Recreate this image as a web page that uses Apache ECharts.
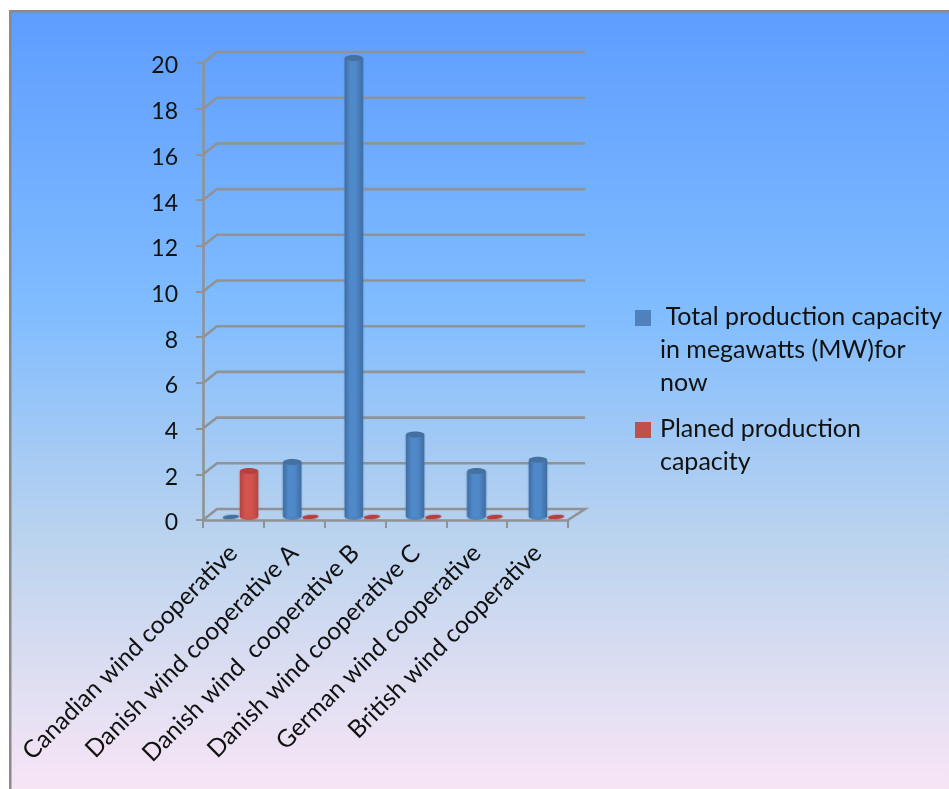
<!DOCTYPE html>
<html>
<head>
<meta charset="utf-8">
<style>html,body{margin:0;padding:0;background:#fff}#chart{width:949px;height:789px}</style>
<script src="https://cdn.jsdelivr.net/npm/echarts@6/dist/echarts.min.js"></script>
</head>
<body>
<div id="chart"></div>
<script>
// Wind cooperatives: current and planned production capacity in MW
const categories = [
  'Canadian wind cooperative',
  'Danish wind cooperative A',
  'Danish wind  cooperative B',
  'Danish wind cooperative C',
  'German wind cooperative',
  'British wind cooperative'
];
const totalCapacity = [0, 2.4, 20, 3.6, 2, 2.5];
const plannedCapacity = [2, 0, 0, 0, 0, 0];
const totalName = ['\u00a0Total production capacity', 'in megawatts (MW)for', 'now'];
const plannedName = ['Planed production', 'capacity'];
const yTicks = [0, 2, 4, 6, 8, 10, 12, 14, 16, 18, 20];

const FONT = 'Lato';
const DEPTH_X = 14, DEPTH_Y = -11, WALL_W = 368;
const GREY = '#8f9396';

// Gridline with its bevel running back from the front axis, plus the floor edge
function renderWall(params, api) {
  const cs = params.coordSys;
  const v = api.value(0);
  const y = api.coord([0, v])[1];
  const x0 = cs.x;
  const pts = [[x0, y], [x0 + DEPTH_X, y + DEPTH_Y], [x0 + DEPTH_X + WALL_W, y + DEPTH_Y]];
  if (v === 0) {
    pts.push([x0 + cs.width, y]);
  }
  return {
    type: 'polyline',
    shape: { points: pts },
    style: { stroke: GREY, lineWidth: 2.6, fill: null }
  };
}

// Cylinder drawn from the value's scale position, with a flat disc when the value is 0
function cylinder(side, colors) {
  return function (params, api) {
    const idx = api.value(0), v = api.value(1);
    const base = api.coord([idx, 0]);
    const top = api.coord([idx, v]);
    const bw = api.size([1, 0])[0] * 0.295;
    const left = side < 0 ? base[0] - bw : base[0];
    const cx = left + bw / 2;
    if (v === 0) {
      return {
        type: 'ellipse',
        shape: { cx: cx, cy: base[1], rx: bw / 2 - 1, ry: 2 },
        rotation: 0.09,
        originX: cx,
        originY: base[1],
        style: { fill: colors.cap, shadowBlur: 2, shadowColor: colors.cap }
      };
    }
    const body = new echarts.graphic.LinearGradient(0, 0, 1, 0, [
      { offset: 0, color: colors.edge },
      { offset: 0.3, color: colors.mid },
      { offset: 0.62, color: colors.mid },
      { offset: 1, color: colors.edge }
    ]);
    return {
      type: 'group',
      children: [
        { type: 'ellipse', shape: { cx: cx, cy: base[1], rx: bw / 2, ry: 3 }, style: { fill: colors.mid } },
        {
          type: 'rect',
          shape: { x: left, y: top[1], width: bw, height: base[1] - top[1] },
          style: { fill: body, shadowBlur: 2, shadowColor: colors.edge }
        },
        { type: 'ellipse', shape: { cx: cx, cy: top[1], rx: bw / 2, ry: 3 }, style: { fill: colors.cap } }
      ]
    };
  };
}

const BLUE = { edge: '#3f6da3', mid: '#5089c9', cap: '#44719f' };
const RED = { edge: '#b8443f', mid: '#d2544f', cap: '#b5403d' };

// Legend entries sit beside the plot with their swatch on the first line
function legendEntry(lines, top, color) {
  return [
    { type: 'rect', left: 635, top: top + 10, shape: { width: 16, height: 16 }, style: { fill: color } },
    {
      type: 'text', left: 660, top: top,
      style: { text: lines.join('\n'), font: '25px ' + FONT, fill: '#111', lineHeight: 33 }
    }
  ];
}

const chart = echarts.init(document.getElementById('chart'), null, { renderer: 'canvas' });
chart.setOption({
  animation: false,
  graphic: [
    {
      type: 'rect', left: 9, top: 10, z: -10,
      shape: { width: 945, height: 785 },
      style: {
        fill: new echarts.graphic.LinearGradient(0, 0, 0, 1, [
          { offset: 0, color: '#5e9dff' },
          { offset: 0.38, color: '#80bcff' },
          { offset: 0.66, color: '#b8d2ee' },
          { offset: 0.86, color: '#e0dff2' },
          { offset: 1, color: '#f9e5f6' }
        ]),
        stroke: '#8a8a8a',
        lineWidth: 2.5
      }
    },
    ...legendEntry(totalName, 300, '#4f81bd'),
    ...legendEntry(plannedName, 412, '#c0504d')
  ],
  grid: [
    { left: 203, top: 63, width: 365, height: 457 },
    { left: 209.3, top: 58, width: 368.4, height: 459 }
  ],
  xAxis: [
    {
      gridIndex: 0, type: 'category', data: categories,
      axisLine: { lineStyle: { color: GREY, width: 2.6 } },
      axisTick: { show: true, length: 8, lineStyle: { color: GREY, width: 2 } },
      axisLabel: { rotate: 45, interval: 0, margin: 29, color: '#111', fontFamily: FONT, fontSize: 24.5 }
    },
    { gridIndex: 1, type: 'category', data: categories, show: false }
  ],
  yAxis: [
    {
      gridIndex: 0, type: 'value', min: 0, max: 20, interval: 2,
      axisLine: { show: true, lineStyle: { color: GREY, width: 2.6 } },
      axisTick: { show: true, length: 7, lineStyle: { color: GREY, width: 2 } },
      splitLine: { show: false },
      axisLabel: { margin: 25, verticalAlign: 'top', lineHeight: 6, color: '#111', fontFamily: FONT, fontSize: 23 }
    },
    { gridIndex: 1, type: 'value', min: 0, max: 20, interval: 2, show: false, splitLine: { show: false } }
  ],
  series: [
    {
      type: 'custom', xAxisIndex: 0, yAxisIndex: 0, z: 1, silent: true,
      renderItem: renderWall,
      encode: { y: 0 },
      data: yTicks.map(v => [v])
    },
    {
      type: 'custom', name: totalName.join(' '), xAxisIndex: 1, yAxisIndex: 1, z: 3,
      renderItem: cylinder(-1, BLUE),
      encode: { x: 0, y: 1 },
      data: totalCapacity.map((v, i) => [i, v])
    },
    {
      type: 'custom', name: plannedName.join(' '), xAxisIndex: 1, yAxisIndex: 1, z: 3,
      renderItem: cylinder(1, RED),
      encode: { x: 0, y: 1 },
      data: plannedCapacity.map((v, i) => [i, v])
    }
  ]
});
</script>
</body>
</html>
